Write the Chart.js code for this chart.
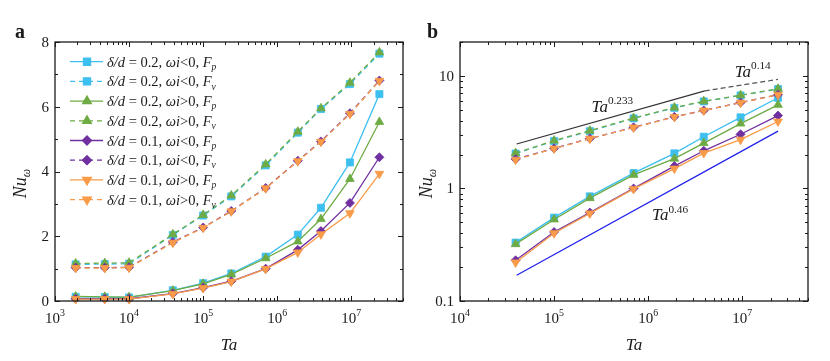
<!DOCTYPE html>
<html>
<head>
<meta charset="utf-8">
<script src="https://cdn.jsdelivr.net/npm/chart.js@4.4.0/dist/chart.umd.min.js"></script>
<style>
  body { margin: 0; background: #fff; }
  .panel { position: absolute; top: 0; width: 415px; height: 361px; }
</style>
</head>
<body>
<div class="panel" style="left:0"><canvas id="chartA"></canvas></div>
<div class="panel" style="left:415px"><canvas id="chartB"></canvas></div>
<script>
// Ta values shared by every series
const taValues = [1.9e3, 4.7e3, 1e4, 3.9e4, 1e5, 2.4e5, 7e5, 1.9e6, 3.9e6, 9.6e6, 2.4e7]

// Nu_omega (panel b shows the same points from Ta = 4e4 on)
const nuD2NegFp = [0.13, 0.12, 0.11, 0.33, 0.55, 0.85, 1.37, 2.05, 2.88, 4.28, 6.39]
const nuD2NegFv = [1.13, 1.14, 1.15, 2.04, 2.64, 3.23, 4.19, 5.2, 5.93, 6.7, 7.64]
const nuD2PosFp = [0.14, 0.13, 0.12, 0.32, 0.53, 0.82, 1.32, 1.84, 2.53, 3.77, 5.53]
const nuD2PosFv = [1.16, 1.17, 1.18, 2.06, 2.66, 3.26, 4.22, 5.23, 5.95, 6.74, 7.68]
const nuD1NegFp = [0.07, 0.07, 0.07, 0.23, 0.41, 0.61, 1.0, 1.58, 2.16, 3.03, 4.44]
const nuD1NegFv = [1.03, 1.03, 1.04, 1.82, 2.27, 2.78, 3.49, 4.33, 4.93, 5.8, 6.81]
const nuD1PosFp = [0.06, 0.06, 0.06, 0.22, 0.4, 0.6, 0.99, 1.5, 2.06, 2.71, 3.93]
const nuD1PosFv = [1.02, 1.02, 1.03, 1.8, 2.26, 2.77, 3.48, 4.32, 4.92, 5.78, 6.8]

const seriesValues = [nuD2NegFp, nuD2NegFv, nuD2PosFp, nuD2PosFv, nuD1NegFp, nuD1NegFv, nuD1PosFp, nuD1PosFv]
const ratioLabels = ['0.2', '0.2', '0.2', '0.2', '0.1', '0.1', '0.1', '0.1']
const signLabels = ['<', '<', '>', '>', '<', '<', '>', '>']
const forceLabels = ['p', 'v', 'p', 'v', 'p', 'v', 'p', 'v']

// scaling-law guide lines in panel b
const fitTa233 = [4e4, 4e6]
const fitNu233 = [2.48, 7.37]
const fitTa014 = [4e6, 2.4e7]
const fitNu014 = [7.37, 9.3]
const fitTa046 = [4e4, 2.4e7]
const fitNu046 = [0.169, 3.23]
const noteTa = [2.5e5, 8.3e6, 1.1e6]
const noteNu = [4.8, 9.8, 0.52]
const noteExps = ['0.233', '0.14', '0.46']

// tick labels
const xExpsA = [3, 4, 5, 6, 7]
const yTicksA = [0, 2, 4, 6, 8]
const xExpsB = [4, 5, 6, 7]
const yTicksB = [0.1, 1, 10]
const yLabelsB = ['0.1', '1', '10']

const seriesColors = ['#3dbff0', '#3dbff0', '#6eab44', '#6eab44', '#7030a0', '#7030a0', '#f99b48', '#f99b48']
const seriesMarkers = ['rect', 'rect', 'triangle', 'triangle', 'rectRot', 'rectRot', 'triangle', 'triangle']
const seriesRotation = [0, 0, 0, 0, 0, 0, 180, 180]
const seriesRadius = [5, 5, 5, 5, 4.5, 4.5, 5, 5]

const FONT = '"Liberation Serif", "Times New Roman", serif'
const INK = '#1a1a1a'

function seriesDatasets (start) {
  return seriesValues.map((vals, i) => ({
    label: 'd/d=' + ratioLabels[i] + ' wi' + signLabels[i] + '0 F' + forceLabels[i],
    data: taValues.slice(start).map((t, j) => ({ x: t, y: vals[start + j] })),
    borderColor: seriesColors[i],
    backgroundColor: seriesColors[i],
    borderWidth: 1.3,
    borderDash: forceLabels[i] === 'v' ? [5, 4] : [],
    pointStyle: seriesMarkers[i],
    rotation: seriesRotation[i],
    pointRadius: seriesRadius[i],
    pointBorderWidth: 0.8,
    tension: 0,
    clip: false,
    order: 20 - i,
    legendIndex: i
  }))
}

function fitDataset (xs, ys, color, dash) {
  return {
    data: xs.map((x, i) => ({ x, y: ys[i] })),
    borderColor: color,
    borderWidth: 1.2,
    borderDash: dash,
    pointRadius: 0,
    order: 30
  }
}

function logTickValues (min, max) {
  const major = []
  const minor = []
  for (let k = Math.floor(Math.log10(min)); k <= Math.ceil(Math.log10(max)); k++) {
    for (let m = 1; m < 10; m++) {
      const v = m * Math.pow(10, k)
      if (v < min * 0.999 || v > max * 1.001) continue
      if (m === 1) major.push(v)
      else minor.push(v)
    }
  }
  return { major, minor }
}

// parts: [text, italic, 'sub' | 'sup' | undefined]
function richWidth (ctx, parts, size) {
  let w = 0
  parts.forEach(p => {
    const s = p[2] ? size * 0.66 : size
    ctx.font = (p[1] ? 'italic ' : '') + s + 'px ' + FONT
    w += ctx.measureText(p[0]).width
  })
  return w
}

function drawRich (ctx, parts, x, y, size) {
  let cx = x
  ctx.textAlign = 'left'
  ctx.textBaseline = 'alphabetic'
  parts.forEach(p => {
    const s = p[2] ? size * 0.66 : size
    ctx.font = (p[1] ? 'italic ' : '') + s + 'px ' + FONT
    const dy = p[2] === 'sub' ? size * 0.22 : p[2] === 'sup' ? -size * 0.45 : 0
    ctx.fillText(p[0], cx, y + dy)
    cx += ctx.measureText(p[0]).width
  })
}

const framePlugin = {
  id: 'frame',
  afterDraw (chart, args, o) {
    const ctx = chart.ctx
    const a = chart.chartArea
    const xs = chart.scales.x
    const ys = chart.scales.y
    ctx.save()
    ctx.strokeStyle = INK
    ctx.fillStyle = INK
    ctx.lineWidth = 1.3
    ctx.setLineDash([])
    ctx.strokeRect(a.left, a.top, a.right - a.left, a.bottom - a.top)

    ctx.lineWidth = 1
    const xt = logTickValues(xs.min, xs.max)
    const tickX = (v, len) => {
      const px = Math.round(xs.getPixelForValue(v)) + 0.5
      ctx.beginPath()
      ctx.moveTo(px, a.bottom); ctx.lineTo(px, a.bottom - len)
      ctx.moveTo(px, a.top); ctx.lineTo(px, a.top + len)
      ctx.stroke()
    }
    xt.major.forEach(v => tickX(v, 5))
    xt.minor.forEach(v => tickX(v, 3))

    const tickY = (v, len) => {
      const py = Math.round(ys.getPixelForValue(v)) + 0.5
      ctx.beginPath()
      ctx.moveTo(a.left, py); ctx.lineTo(a.left + len, py)
      ctx.moveTo(a.right, py); ctx.lineTo(a.right - len, py)
      ctx.stroke()
    }
    if (ys.type === 'logarithmic') {
      const yt = logTickValues(ys.min, ys.max)
      yt.major.forEach(v => tickY(v, 5))
      yt.minor.forEach(v => tickY(v, 3))
    } else {
      for (let v = ys.min; v <= ys.max; v++) tickY(v, v % 2 === 0 ? 5 : 3)
    }

    // x tick labels 10^n
    o.xExps.forEach(e => {
      const px = xs.getPixelForValue(Math.pow(10, e))
      const parts = [['10', false], [String(e), false, 'sup']]
      const w = richWidth(ctx, parts, 15)
      drawRich(ctx, parts, px - w / 2, a.bottom + 22, 15)
    })

    // y tick labels
    ctx.font = '15px ' + FONT
    ctx.textAlign = 'right'
    ctx.textBaseline = 'middle'
    o.yTicks.forEach((v, i) => {
      ctx.fillText(o.yLabels[i], a.left - 6, ys.getPixelForValue(v) + 1)
    })

    // axis titles
    const cx = (a.left + a.right) / 2
    ctx.font = 'italic 17px ' + FONT
    ctx.textAlign = 'center'
    ctx.textBaseline = 'alphabetic'
    ctx.fillText('Ta', cx, a.bottom + 49)

    const nu = [['Nu', true], ['\u03c9', true, 'sub']]
    const wn = richWidth(ctx, nu, 18)
    ctx.save()
    ctx.translate(o.yTitleX, (a.top + a.bottom) / 2 + 12)
    ctx.rotate(-Math.PI / 2)
    drawRich(ctx, nu, -wn / 2, 0, 18)
    ctx.restore()

    // panel letter
    ctx.font = 'bold 20px ' + FONT
    ctx.textAlign = 'left'
    ctx.fillText(o.letter, o.letterX, 38)
    ctx.restore()
  }
}

const legendPlugin = {
  id: 'richLegend',
  afterDraw (chart, args, o) {
    if (!o.show) return
    const ctx = chart.ctx
    const a = chart.chartArea
    ctx.save()
    for (let i = 0; i < seriesValues.length; i++) {
      const y = a.top + 19.7 * (i + 1)
      const x0 = a.left + 15
      ctx.strokeStyle = seriesColors[i]
      ctx.fillStyle = seriesColors[i]
      ctx.lineWidth = 1.3
      ctx.setLineDash(forceLabels[i] === 'v' ? [5, 4] : [])
      ctx.beginPath()
      ctx.moveTo(x0, y); ctx.lineTo(x0 + 33, y)
      ctx.stroke()
      ctx.setLineDash([])
      Chart.helpers.drawPoint(ctx, {
        pointStyle: seriesMarkers[i],
        rotation: seriesRotation[i],
        radius: seriesRadius[i],
        borderWidth: 0.8
      }, x0 + 17, y)
      ctx.fillStyle = INK
      drawRich(ctx, [
        ['\u03b4/d', true], [' = ' + ratioLabels[i] + ', ', false],
        ['\u03c9i', true], [signLabels[i] + '0, ', false],
        ['F', true], [forceLabels[i], true, 'sub']
      ], x0 + 37, y + 5, 14.5)
    }
    ctx.restore()
  }
}

const notesPlugin = {
  id: 'notes',
  afterDraw (chart, args, o) {
    if (!o.show) return
    const ctx = chart.ctx
    ctx.save()
    ctx.fillStyle = INK
    noteExps.forEach((e, i) => {
      const px = chart.scales.x.getPixelForValue(noteTa[i])
      const py = chart.scales.y.getPixelForValue(noteNu[i])
      drawRich(ctx, [['Ta', true], [e, false, 'sup']], px, py, 17)
    })
    ctx.restore()
  }
}

function baseOptions (xMin, yScale, padLeft, padRight, frame, legendOn, notesOn) {
  return {
    responsive: false,
    animation: false,
    layout: { padding: { left: padLeft, right: padRight, top: 42, bottom: 60 } },
    scales: {
      x: { type: 'logarithmic', min: xMin, max: 5e7, display: false },
      y: Object.assign({ display: false }, yScale)
    },
    plugins: {
      legend: { display: false },
      tooltip: { enabled: false },
      frame,
      richLegend: { show: legendOn },
      notes: { show: notesOn }
    }
  }
}

function sizeCanvas (id) {
  const c = document.getElementById(id)
  c.width = 415
  c.height = 361
  c.style.width = '415px'
  c.style.height = '361px'
  return c
}

new Chart(sizeCanvas('chartA'), {
  type: 'line',
  data: { datasets: seriesDatasets(0) },
  options: baseOptions(1e3, { type: 'linear', min: 0, max: 8 }, 55, 12,
    { xExps: xExpsA, yTicks: yTicksA, yLabels: yTicksA.map(String), yTitleX: 26, letter: 'a', letterX: 15 },
    true, false),
  plugins: [framePlugin, legendPlugin, notesPlugin]
})

new Chart(sizeCanvas('chartB'), {
  type: 'line',
  data: {
    datasets: seriesDatasets(3).concat([
      fitDataset(fitTa233, fitNu233, '#333333', []),
      fitDataset(fitTa014, fitNu014, '#555555', [5, 3]),
      fitDataset(fitTa046, fitNu046, '#1f1fee', [])
    ])
  },
  options: baseOptions(1e4, { type: 'logarithmic', min: 0.1, max: 20 }, 45, 22,
    { xExps: xExpsB, yTicks: yTicksB, yLabels: yLabelsB, yTitleX: 17, letter: 'b', letterX: 12 },
    false, true),
  plugins: [framePlugin, legendPlugin, notesPlugin]
})
</script>
</body>
</html>
